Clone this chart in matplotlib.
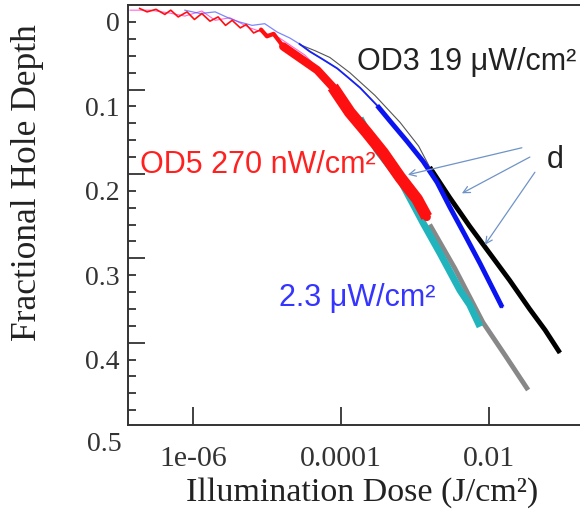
import numpy as np
import matplotlib
matplotlib.use("Agg")
import matplotlib.pyplot as plt
from matplotlib.ticker import FixedLocator, NullFormatter, FixedFormatter

# ---- data: log10(dose [J/cm^2]) and fractional hole depth ----
red_logdose = [-6.72, -6.62, -6.50, -6.38, -6.30, -6.20, -6.08, -5.98, -5.88, -5.77,
               -5.66, -5.56, -5.47, -5.36, -5.28, -5.18, -5.08, -5.00, -4.91, -4.78,
               -4.55, -4.32, -4.11, -3.88, -3.65, -3.43, -3.20, -2.97, -2.84]
red_depth = [-0.016, -0.012, -0.015, -0.009, -0.014, -0.006, -0.012, -0.003, -0.010, -0.001,
             -0.006, 0.004, -0.002, 0.007, 0.003, 0.013, 0.009, 0.017, 0.014, 0.029,
             0.043, 0.057, 0.077, 0.107, 0.131, 0.155, 0.184, 0.210, 0.231]

blue_logdose = [-6.11, -5.90, -5.70, -5.50, -5.37, -5.20, -5.03, -4.86, -4.69, -4.56,
                -4.42, -4.25, -4.05, -3.90, -3.74, -3.51, -3.34, -3.11, -2.89, -2.70,
                -2.53, -2.32, -2.12, -1.82]
blue_depth = [-0.014, -0.010, -0.012, -0.004, 0.000, 0.004, 0.002, 0.012, 0.019, 0.026,
              0.035, 0.044, 0.055, 0.066, 0.078, 0.099, 0.117, 0.141, 0.165, 0.190,
              0.219, 0.253, 0.286, 0.338]

black_logdose = [-4.55, -4.35, -4.15, -3.88, -3.54, -3.20, -2.95, -2.80, -2.53, -2.26,
                 -1.99, -1.72, -1.45, -1.24, -1.04]
black_depth = [0.027, 0.034, 0.042, 0.060, 0.087, 0.119, 0.147, 0.172, 0.208, 0.242,
               0.274, 0.306, 0.340, 0.365, 0.392]

cyan_logdose = [-3.74, -3.51, -3.20, -2.89, -2.66, -2.39, -2.26, -2.12]
cyan_depth = [0.114, 0.152, 0.187, 0.238, 0.274, 0.318, 0.335, 0.361]

gray_logdose = [-2.80, -2.46, -2.08, -1.78, -1.47]
gray_depth = [0.240, 0.292, 0.356, 0.395, 0.436]

pink_logdose = [-6.85, -6.58, -6.34, -6.11, -5.88, -5.70, -5.50, -5.23, -4.83, -4.49, -4.22]
pink_depth = [-0.014, -0.014, -0.011, -0.007, -0.013, -0.002, -0.005, 0.007, 0.019, 0.039, 0.063]

y_ticks = [0.0, 0.1, 0.2, 0.3, 0.4]
y_ticklabels = ["0", "0.1", "0.2", "0.3", "0.4"]
y_minor = [0.02, 0.04, 0.06, 0.12, 0.14, 0.16, 0.22, 0.24, 0.26, 0.32, 0.34, 0.36, 0.42, 0.44, 0.46]
y_long = [0.08, 0.18, 0.28, 0.38]
x_ticks = [1e-6, 1e-4, 1e-2]
x_ticklabels = ["1e-06", "0.0001", "0.01"]

serif = ["Liberation Serif", "DejaVu Serif"]
sans = ["Liberation Sans", "DejaVu Sans"]
axis_col = "#333333"

fig = plt.figure(figsize=(5.8, 5.13), dpi=100)
ax = fig.add_axes([0.2207, 0.1715, 0.799, 0.8187])


def dose(v):
    return 10.0 ** np.asarray(v)


def segment(xs, ys, lo):
    idx = [i for i, v in enumerate(xs) if v >= lo]
    return dose([xs[i] for i in idx]), [ys[i] for i in idx]


# thin early traces
ax.plot(dose(pink_logdose), pink_depth, color="#ff66dd", lw=0.8, zorder=2)
ax.plot(dose(blue_logdose), blue_depth, color="#4455ff", lw=0.9, alpha=0.7, zorder=3)
ax.plot(dose(black_logdose), black_depth, color="#555555", lw=0.8, zorder=3)

# thick late traces
ax.plot(dose(gray_logdose), gray_depth, color="#888888", lw=3.5, zorder=4,
        solid_capstyle="butt")
ax.plot(dose(cyan_logdose), cyan_depth, color="#22b4bc", lw=5, zorder=5,
        solid_capstyle="butt")
ax.plot(dose(red_logdose), red_depth, color="#ff1010", lw=1.2, zorder=6)
ax.plot(*segment(red_logdose, red_depth, -5.10), color="#ff1010", lw=3, zorder=6,
        solid_capstyle="round")
ax.plot(*segment(red_logdose, red_depth, -4.80), color="#ff1010", lw=6, zorder=6,
        solid_capstyle="round")
ax.plot(*segment(red_logdose, red_depth, -4.20), color="#ff1010", lw=8.5, zorder=6,
        solid_capstyle="butt")
ax.plot(*segment(blue_logdose, blue_depth, -4.60), color="#1822f0", lw=1.3, zorder=5)
ax.plot(*segment(blue_logdose, blue_depth, -3.55), color="#0a14f0", lw=3.5, zorder=5,
        solid_capstyle="butt")
ax.plot(*segment(black_logdose, black_depth, -2.85), color="#000000", lw=3.5, zorder=4,
        solid_capstyle="butt")

ax.set_xscale("log")
ax.set_xlim(10 ** -6.878, 10 ** -0.614)
ax.set_ylim(0.4775, -0.0201)

ax.spines["right"].set_visible(False)
for side in ["left", "bottom", "top"]:
    ax.spines[side].set_color(axis_col)
    ax.spines[side].set_linewidth(1.4)

ax.xaxis.set_major_locator(FixedLocator(x_ticks))
ax.xaxis.set_major_formatter(FixedFormatter(x_ticklabels))
ax.xaxis.set_minor_locator(FixedLocator([]))
ax.tick_params(axis="x", which="major", direction="in", length=13, width=1.3,
               color=axis_col, labelcolor=axis_col, pad=15, top=False)
ax.yaxis.set_major_locator(FixedLocator(y_ticks))
ax.yaxis.set_major_formatter(FixedFormatter(y_ticklabels))
ax.yaxis.set_minor_locator(FixedLocator(y_minor))
ax.yaxis.set_minor_formatter(NullFormatter())
ax.tick_params(axis="y", which="both", direction="in", length=5.5, width=1.3,
               color=axis_col, labelcolor=axis_col, pad=6, right=False)
for lab in ax.get_xticklabels():
    lab.set_fontfamily(serif)
    lab.set_fontsize(21.5)
for lab in ax.get_yticklabels():
    lab.set_fontfamily(serif)
    lab.set_fontsize(20)

# longer marks every fifth tick
sec = ax.secondary_yaxis("left")
sec.set_yticks(y_long)
sec.set_yticklabels([])
sec.tick_params(axis="y", direction="in", length=12, width=1.3, color=axis_col)
sec.spines["left"].set_visible(False)

# bottom label sitting below the axis end
ax.text(-0.013, 0.5, "0.5", transform=ax.get_yaxis_transform(), ha="right", va="center",
        fontsize=20, family=serif, color=axis_col, clip_on=False)

fig.text(0.047, 0.645, "Fractional Hole Depth", rotation=90, ha="center", va="center",
         fontsize=25.5, family=serif, color="#222222")
fig.text(0.624, 0.040, "Illumination Dose (J/cm²)", ha="center", va="center",
         fontsize=24.5, family=serif, color="#222222")

ax.text(dose(-3.78), 0.047, "OD3 19 μW/cm²", fontsize=22, family=sans, color="#222222",
        ha="left", va="center")
ax.text(dose(-6.71), 0.169, "OD5 270 nW/cm²", fontsize=22, family=sans, color="#ff2020",
        ha="left", va="center")
ax.text(dose(-4.84), 0.327, "2.3 μW/cm²", fontsize=22, family=sans, color="#3535ff",
        ha="left", va="center")
ax.text(dose(-1.11), 0.164, "d", fontsize=22, family=sans, color="#222222",
        ha="center", va="center")

arrow_col = "#6f93c8"
arrows = [((-1.554, 0.149), (-3.095, 0.181)),
          ((-1.446, 0.160), (-2.365, 0.203)),
          ((-1.378, 0.178), (-2.054, 0.264))]
for (sx, sy), (ex, ey) in arrows:
    ax.annotate("", xy=(dose(ex), ey), xytext=(dose(sx), sy),
                arrowprops=dict(arrowstyle="->", color=arrow_col, lw=0.9,
                                mutation_scale=12, shrinkA=0, shrinkB=0), zorder=8)

fig.savefig("out.png", dpi=100)
